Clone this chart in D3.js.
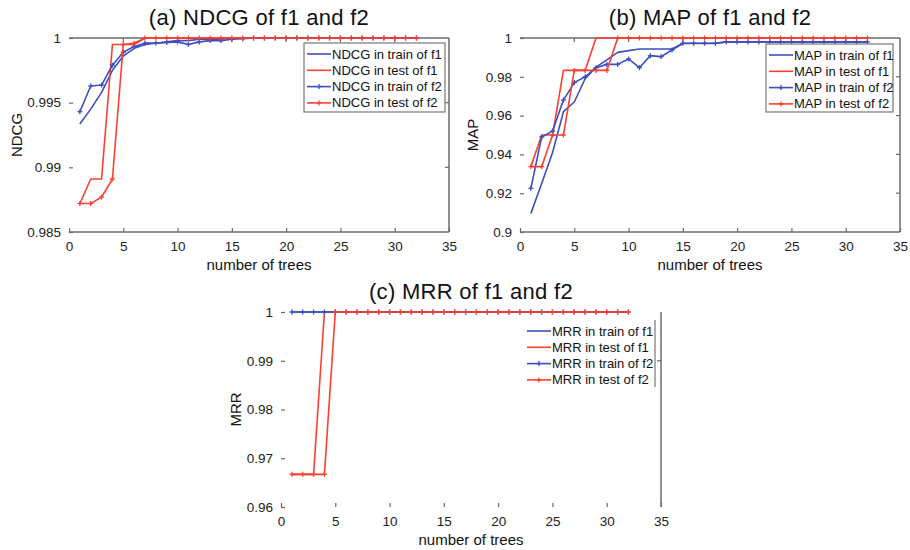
<!DOCTYPE html>
<html>
<head>
<meta charset="utf-8">
<script src="https://cdn.jsdelivr.net/npm/d3@7/dist/d3.min.js"></script>
<style>
  html, body { margin: 0; padding: 0; background: #fff; }
  svg { display: block; font-family: "Liberation Sans", Arial, Helvetica, sans-serif; }
</style>
</head>
<body>
<svg id="chart" width="910" height="550"></svg>
<script>
// Number of trees in the ensemble (x values shared by every series)
const trees = [1,2,3,4,5,6,7,8,9,10,11,12,13,14,15,16,17,18,19,20,21,22,23,24,25,26,27,28,29,30,31,32];
const xTicks = [0,5,10,15,20,25,30,35];

// (a) NDCG
const ndcgTrainF1 = [0.99335,0.9945,0.9958,0.9975,0.9986,0.9992,0.9995,0.9996,0.9997,0.9998,0.9998,0.9999,0.9999,0.9999,1,1,1,1,1,1,1,1,1,1,1,1,1,1,1,1,1,1];
const ndcgTestF1  = [0.9872,0.9891,0.9891,0.9995,0.9995,0.9995,1,1,1,1,1,1,1,1,1,1,1,1,1,1,1,1,1,1,1,1,1,1,1,1,1,1];
const ndcgTrainF2 = [0.9943,0.99629,0.99636,0.9979,0.9989,0.99935,0.9996,0.9996,0.99965,0.9997,0.9995,0.9997,0.9998,0.9998,0.9999,0.99995,1,1,1,1,1,1,1,1,1,1,1,1,1,1,1,1];
const ndcgTestF2  = [0.9872,0.9872,0.9877,0.9891,0.9995,0.9996,1,1,1,1,1,1,1,1,1,1,1,1,1,1,1,1,1,1,1,1,1,1,1,1,1,1];
const ndcgTicks = [0.985,0.99,0.995,1];
const ndcgTickLabels = ["0.985","0.99","0.995","1"];

// (b) MAP
const mapTrainF1 = [0.9096,0.925,0.941,0.962,0.967,0.979,0.985,0.9887,0.9926,0.9935,0.9943,0.9943,0.9943,0.9943,0.9972,0.9972,0.9972,0.9972,0.998,0.998,0.998,0.998,0.998,0.998,0.998,0.998,0.998,0.998,0.998,0.998,0.998,0.998];
const mapTestF1  = [0.9337,0.95,0.95,0.9833,0.9833,0.9833,1,1,1,1,1,1,1,1,1,1,1,1,1,1,1,1,1,1,1,1,1,1,1,1,1,1];
const mapTrainF2 = [0.9225,0.949,0.952,0.968,0.977,0.980,0.9847,0.9864,0.9864,0.9892,0.9847,0.9909,0.9904,0.9938,0.9973,0.9973,0.9973,0.9973,0.998,0.998,0.998,0.998,0.998,0.998,0.998,0.998,0.998,0.998,0.998,0.998,0.998,0.998];
const mapTestF2  = [0.9337,0.9337,0.95,0.95,0.9833,0.9833,0.9833,0.9833,1,1,1,1,1,1,1,1,1,1,1,1,1,1,1,1,1,1,1,1,1,1,1,1];
const mapTicks = [0.9,0.92,0.94,0.96,0.98,1];
const mapTickLabels = ["0.9","0.92","0.94","0.96","0.98","1"];

// (c) MRR
const mrrTrainF1 = [1,1,1,1,1,1,1,1,1,1,1,1,1,1,1,1,1,1,1,1,1,1,1,1,1,1,1,1,1,1,1,1];
const mrrTestF1  = [0.9667,0.9667,0.9667,1,1,1,1,1,1,1,1,1,1,1,1,1,1,1,1,1,1,1,1,1,1,1,1,1,1,1,1,1];
const mrrTrainF2 = [1,1,1,1,1,1,1,1,1,1,1,1,1,1,1,1,1,1,1,1,1,1,1,1,1,1,1,1,1,1,1,1];
const mrrTestF2  = [0.9667,0.9667,0.9667,0.9667,1,1,1,1,1,1,1,1,1,1,1,1,1,1,1,1,1,1,1,1,1,1,1,1,1,1,1,1];
const mrrTicks = [0.96,0.97,0.98,0.99,1];
const mrrTickLabels = ["0.96","0.97","0.98","0.99","1"];

const BLUE = "#3c4fbd";
const RED = "#fa4030";
const AXIS = "#6b6b6b";

const svg = d3.select("#chart");

function panel(opt) {
  const x = d3.scaleLinear().domain([0, 35]).range([opt.left, opt.right]);
  const y = d3.scaleLinear().domain(opt.yDomain).range([opt.bottom, opt.top]);
  const g = svg.append("g");

  // tick marks pointing into the plot, labels outside
  const xAxis = d3.axisBottom(x).tickValues(xTicks).tickFormat(d3.format("d")).tickSizeInner(-4).tickSizeOuter(0).tickPadding(9);
  const gx = g.append("g").attr("transform", `translate(0,${opt.bottom})`).call(xAxis);
  const yAxis = d3.axisLeft(y).tickValues(opt.yTicks).tickFormat((d, i) => opt.yLabels[i]).tickSizeInner(-4).tickSizeOuter(0).tickPadding(8);
  const gy = g.append("g").attr("transform", `translate(${opt.left},0)`).call(yAxis);
  [gx, gy].forEach(a => {
    a.select(".domain").remove();
    a.selectAll(".tick line").attr("stroke", AXIS).attr("stroke-width", 1.2);
    a.selectAll(".tick text").attr("fill", "#222").style("font-size", "13.5px");
  });

  if (opt.frame) {
    // top, right and bottom edges of the box
    const frame = g.append("g").attr("fill", "none").attr("stroke", AXIS).attr("stroke-width", 1.5);
    frame.append("line").attr("x1", x(0)).attr("x2", x(35)).attr("y1", y(opt.yDomain[1])).attr("y2", y(opt.yDomain[1]));
    frame.append("line").attr("x1", x(0)).attr("x2", x(35)).attr("y1", y(opt.yDomain[0])).attr("y2", y(opt.yDomain[0]));
    frame.append("line").attr("x1", x(35)).attr("x2", x(35)).attr("y1", y(opt.yDomain[0])).attr("y2", y(opt.yDomain[1]));
    // top ticks
    frame.selectAll(".tt").data(xTicks.slice(1, -1)).enter().append("line")
      .attr("x1", d => x(d)).attr("x2", d => x(d))
      .attr("y1", y(opt.yDomain[1])).attr("y2", y(opt.yDomain[1]) + 4).attr("stroke-width", 1.2);
    // right ticks
    frame.selectAll(".rt").data(opt.yTicks.slice(1, -1)).enter().append("line")
      .attr("x1", x(35)).attr("x2", x(35) - 4)
      .attr("y1", d => y(d)).attr("y2", d => y(d)).attr("stroke-width", 1.2);
  } else {
    g.append("line").attr("stroke", AXIS).attr("stroke-width", 1.5)
      .attr("x1", x(35)).attr("x2", x(35)).attr("y1", y(opt.yDomain[0])).attr("y2", y(opt.yDomain[1]));
    g.append("line").attr("stroke", AXIS).attr("stroke-width", 1.2)
      .attr("x1", x(35)).attr("x2", x(35) - 4).attr("y1", y(0.99)).attr("y2", y(0.99));
  }

  const line = d3.line().x((d, i) => x(trees[i])).y(d => y(d));
  const series = [
    { v: opt.s[0], c: BLUE, m: false, name: opt.metric + " in train of f1" },
    { v: opt.s[1], c: RED,  m: false, name: opt.metric + " in test of f1" },
    { v: opt.s[2], c: BLUE, m: true,  name: opt.metric + " in train of f2" },
    { v: opt.s[3], c: RED,  m: true,  name: opt.metric + " in test of f2" }
  ];
  series.forEach(s => {
    g.append("path").attr("d", line(s.v)).attr("fill", "none")
      .attr("stroke", s.c).attr("stroke-width", 1.6).attr("stroke-linejoin", "round");
    if (s.m) {
      const pts = g.append("g").attr("stroke", s.c).attr("stroke-width", 1.3);
      s.v.forEach((d, i) => {
        const px = x(trees[i]), py = y(d);
        pts.append("line").attr("x1", px - 2.5).attr("x2", px + 2.5).attr("y1", py).attr("y2", py);
        pts.append("line").attr("x1", px).attr("x2", px).attr("y1", py - 2.5).attr("y2", py + 2.5);
      });
    }
  });

  // legend
  const L = opt.legend;
  const lg = g.append("g");
  if (opt.frame) {
    lg.append("rect").attr("x", L.x).attr("y", L.y).attr("width", L.w).attr("height", L.h)
      .attr("fill", "#fff").attr("stroke", "#777").attr("stroke-width", 1.2);
  } else {
    lg.append("rect").attr("x", L.x).attr("y", L.y).attr("width", L.w).attr("height", L.h).attr("fill", "#fff");
    lg.append("line").attr("x1", L.x + L.w).attr("x2", L.x + L.w).attr("y1", L.y).attr("y2", L.y + L.h)
      .attr("stroke", "#777").attr("stroke-width", 1.2);
  }
  series.forEach((s, i) => {
    const ry = L.y + 11 + i * 16.3;
    lg.append("line").attr("x1", L.x + 3).attr("x2", L.x + 27).attr("y1", ry).attr("y2", ry)
      .attr("stroke", s.c).attr("stroke-width", 1.6);
    if (s.m) {
      lg.append("line").attr("x1", L.x + 12.5).attr("x2", L.x + 17.5).attr("y1", ry).attr("y2", ry).attr("stroke", s.c).attr("stroke-width", 1.3);
      lg.append("line").attr("x1", L.x + 15).attr("x2", L.x + 15).attr("y1", ry - 2.5).attr("y2", ry + 2.5).attr("stroke", s.c).attr("stroke-width", 1.3);
    }
    lg.append("text").attr("x", L.x + 28).attr("y", ry).attr("dy", "0.35em")
      .style("font-size", "13px").attr("fill", "#111").text(s.name);
  });

  // titles and axis labels
  g.append("text").attr("x", (opt.left + opt.right) / 2).attr("y", opt.top - 13)
    .attr("text-anchor", "middle").style("font-size", "22px").style("letter-spacing", "0.3px")
    .attr("fill", "#111").text(opt.title);
  g.append("text").attr("x", (opt.left + opt.right) / 2).attr("y", opt.bottom + 38)
    .attr("text-anchor", "middle").style("font-size", "15px").attr("fill", "#111").text("number of trees");
  g.append("text").attr("transform", `translate(${opt.yLabelX},${(opt.top + opt.bottom) / 2}) rotate(-90)`)
    .attr("text-anchor", "middle").style("font-size", "15px").attr("fill", "#111").text(opt.metric);
}

panel({
  left: 69, right: 449, top: 38, bottom: 232, yDomain: [0.985, 1],
  yTicks: ndcgTicks, yLabels: ndcgTickLabels, frame: true,
  s: [ndcgTrainF1, ndcgTestF1, ndcgTrainF2, ndcgTestF2], metric: "NDCG",
  title: "(a) NDCG of f1 and f2", yLabelX: 22,
  legend: { x: 304, y: 43, w: 141, h: 69 }
});

panel({
  left: 520, right: 900, top: 38, bottom: 232, yDomain: [0.9, 1],
  yTicks: mapTicks, yLabels: mapTickLabels, frame: true,
  s: [mapTrainF1, mapTestF1, mapTrainF2, mapTestF2], metric: "MAP",
  title: "(b) MAP of f1 and f2", yLabelX: 478,
  legend: { x: 766, y: 44, w: 127, h: 68 }
});

panel({
  left: 281, right: 661, top: 312, bottom: 507, yDomain: [0.96, 1],
  yTicks: mrrTicks, yLabels: mrrTickLabels, frame: false,
  s: [mrrTrainF1, mrrTestF1, mrrTrainF2, mrrTestF2], metric: "MRR",
  title: "(c) MRR of f1 and f2", yLabelX: 241,
  legend: { x: 524, y: 320, w: 131, h: 67 }
});
</script>
</body>
</html>
